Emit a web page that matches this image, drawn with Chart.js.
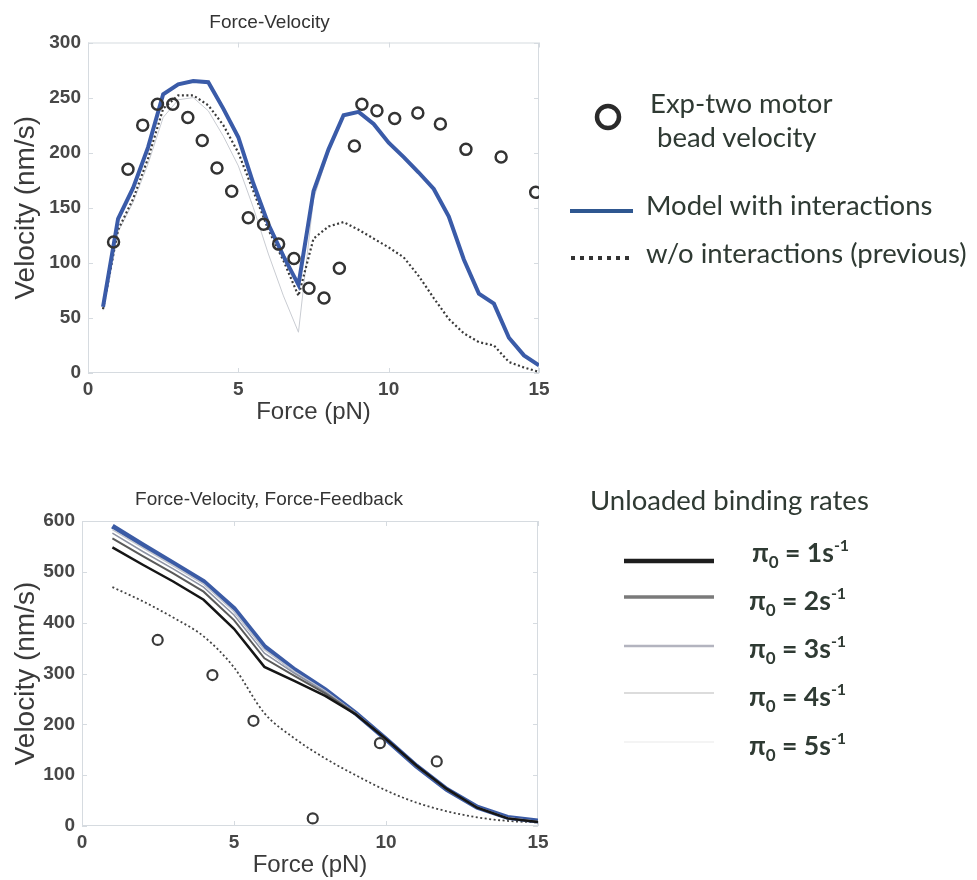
<!DOCTYPE html>
<html>
<head>
<meta charset="utf-8">
<script src="https://cdn.jsdelivr.net/npm/chart.js@4.4.0/dist/chart.umd.min.js"></script>
<style>
  body { margin: 0; background: #fff; width: 977px; height: 880px; overflow: hidden; position: relative; }
  #fv { position: absolute; left: 0; top: 0; }
  #ff { position: absolute; left: 0; top: 480px; }
  #legends { position: absolute; left: 0; top: 0; }
  #legends text { font-family: Lato, "Open Sans", sans-serif; fill: #2f3a33; font-size: 27.5px; }
  #legends .pi { font-weight: bold; font-size: 26.5px; }
</style>
</head>
<body>
<canvas id="fv" width="560" height="430"></canvas>
<canvas id="ff" width="560" height="400"></canvas>

<svg id="legends" width="977" height="880">
  <!-- top legend -->
  <circle cx="608" cy="117" r="11" fill="none" stroke="#2a2a2a" stroke-width="4.5"/>
  <text x="650" y="113">Exp-two motor</text>
  <text x="657" y="147">bead velocity</text>
  <line x1="570" y1="211" x2="633" y2="211" stroke="#2f5790" stroke-width="4"/>
  <text x="646" y="215">Model with interactions</text>
  <line x1="571" y1="258" x2="633" y2="258" stroke="#333" stroke-width="4" stroke-dasharray="4 5"/>
  <text x="646" y="263">w/o interactions (previous)</text>

  <!-- bottom legend -->
  <text x="590" y="510">Unloaded binding rates</text>
  <line x1="624" y1="561" x2="714" y2="561" stroke="#1e1e1e" stroke-width="4.5"/>
  <line x1="624" y1="597" x2="714" y2="597" stroke="#7a7a7a" stroke-width="3.5"/>
  <line x1="624" y1="646" x2="714" y2="646" stroke="#b3b4bf" stroke-width="2.5"/>
  <line x1="624" y1="693" x2="714" y2="693" stroke="#dcdcdc" stroke-width="2"/>
  <line x1="624" y1="742" x2="714" y2="742" stroke="#f1f1f1" stroke-width="1.5"/>
  <text class="pi" x="752" y="562">π<tspan dy="6" font-size="17">0</tspan><tspan dy="-6"> = 1s</tspan><tspan dy="-11" font-size="16">-1</tspan></text>
  <text class="pi" x="749" y="610">π<tspan dy="6" font-size="17">0</tspan><tspan dy="-6"> = 2s</tspan><tspan dy="-11" font-size="16">-1</tspan></text>
  <text class="pi" x="749" y="658">π<tspan dy="6" font-size="17">0</tspan><tspan dy="-6"> = 3s</tspan><tspan dy="-11" font-size="16">-1</tspan></text>
  <text class="pi" x="749" y="706">π<tspan dy="6" font-size="17">0</tspan><tspan dy="-6"> = 4s</tspan><tspan dy="-11" font-size="16">-1</tspan></text>
  <text class="pi" x="749" y="755">π<tspan dy="6" font-size="17">0</tspan><tspan dy="-6"> = 5s</tspan><tspan dy="-11" font-size="16">-1</tspan></text>
</svg>

<script>
// ---- Force-Velocity (top) ----
const topForce = [0.5,1,1.5,2,2.5,3,3.5,4,4.5,5,5.5,6,6.5,7,7.5,8,8.5,9,9.5,10,10.5,11,11.5,12,12.5,13,13.5,14,14.5,15];
const topModel = [60,140,168,205,253,262,265,264,240,214,172,135,106,80,165,203,234,237,226,209,196,182,167,142,103,72,63,32,16,7];
const topPrevious = [58,130,158,195,240,252,252,243,225,200,165,130,102,70,122,133,137,130,122,114,105,88,68,49,36,28,25,10,5,1];
const topFaint = [57,128,155,190,232,248,250,238,215,188,150,108,70,37,158,200,233,null,null,null,null,null,null,null,null,null,null,null,null,null];
const expForceTop = [0.85,1.33,1.82,2.31,2.82,3.32,3.80,4.29,4.78,5.33,5.84,6.34,6.85,7.35,7.85,8.36,8.86,9.11,9.61,10.2,10.97,11.72,12.57,13.74,14.89];
const expVelTop = [119,185,225,244,244,232,211,186,165,141,135,117,104,77,68,95,206,244,238,231,236,226,203,196,164];

// ---- Force-Velocity, Force-Feedback (bottom) ----
const bottomForce = [1,2,3,4,5,6,7,8,9,10,11,12,13,14,15];
const pi1Vel = [548,514,481,445,388,313,285,256,220,171,119,73,36,15,8];
const pi2Vel = [566,531,497,461,405,330,295,261,221,171,118,72,36,15,8];
const pi3Vel = [576,540,506,470,415,340,300,264,222,171,118,72,36,16,9];
const pi4Vel = [583,547,512,476,422,347,303,266,222,171,118,72,37,16,9];
const blueVel = [590,553,517,481,428,353,307,268,222,171,118,72,37,17,10];
const bottomPrevious = [470,442,410,373,312,222,172,133,100,70,46,29,17,10,7];
const expForceBottom = [2.49,4.29,5.64,7.59,9.8,11.67];
const expVelBottom = [366,297,207,15,163,127];

const xTicks = [0,5,10,15];

const pts = (xs, ys) => xs.map((x, i) => ({x: x, y: ys[i]}));

// light box round the plot area with small inward ticks, matlab style
const boxPlugin = {
  id: 'box',
  beforeDatasetsDraw(chart) {
    const {ctx, chartArea: a, scales} = chart;
    ctx.save();
    ctx.strokeStyle = '#d6dbe0';
    ctx.lineWidth = 1;
    ctx.strokeRect(a.left + 0.5, a.top + 0.5, a.right - a.left - 1, a.bottom - a.top - 1);
    ctx.beginPath();
    scales.x.ticks.forEach(t => {
      const px = Math.round(scales.x.getPixelForValue(t.value)) + 0.5;
      ctx.moveTo(px, a.bottom); ctx.lineTo(px, a.bottom - 5);
      ctx.moveTo(px, a.top); ctx.lineTo(px, a.top + 5);
    });
    scales.y.ticks.forEach(t => {
      const py = Math.round(scales.y.getPixelForValue(t.value)) + 0.5;
      ctx.moveTo(a.left, py); ctx.lineTo(a.left + 5, py);
      ctx.moveTo(a.right, py); ctx.lineTo(a.right - 5, py);
    });
    ctx.stroke();
    ctx.restore();
  }
};

const tickFont = {family: 'Liberation Sans', size: 19, weight: 'bold'};

function makeOptions(title, yMax, yStep, yWidth, xHeight, pad, titlePad, xTitlePad) {
  return {
    responsive: false,
    animation: false,
    layout: {padding: pad},
    plugins: {
      legend: {display: false},
      tooltip: {enabled: false},
      title: {
        display: true, text: title, color: '#333',
        font: {family: 'Liberation Sans', size: 19, weight: 'normal'},
        padding: titlePad
      }
    },
    scales: {
      x: {
        type: 'linear', min: 0, max: 15,
        afterBuildTicks: s => { s.ticks = xTicks.map(v => ({value: v})); },
        afterFit: s => { s.height = xHeight; },
        grid: {display: false, drawTicks: false},
        border: {display: false},
        ticks: {font: tickFont, color: '#474747', padding: 5, maxRotation: 0},
        title: {display: true, text: 'Force (pN)', color: '#3a3a3a',
                font: {family: 'Liberation Sans', size: 24}, padding: xTitlePad}
      },
      y: {
        min: 0, max: yMax,
        afterFit: s => { s.width = yWidth; },
        grid: {display: false, drawTicks: false},
        border: {display: false},
        ticks: {stepSize: yStep, font: tickFont, color: '#474747', padding: 7},
        title: {display: true, text: 'Velocity (nm/s)', color: '#3a3a3a',
                font: {family: 'Liberation Sans', size: 28}, padding: {top: 9, bottom: 0}}
      }
    }
  };
}

new Chart(document.getElementById('fv'), {
  type: 'scatter',
  data: {
    datasets: [
      {label: 'Exp-two motor bead velocity', data: pts(expForceTop, expVelTop), order: 0,
       pointRadius: 5.5, borderWidth: 2.5, borderColor: '#333', backgroundColor: 'rgba(0,0,0,0)'},
      {label: 'Model with interactions', data: pts(topForce, topModel), order: 1, showLine: true,
       pointRadius: 0, borderWidth: 4, borderColor: '#3a5ba8'},
      {label: 'w/o interactions (previous)', data: pts(topForce, topPrevious), order: 2, showLine: true,
       pointRadius: 0, borderWidth: 2.2, borderColor: '#3a3a3a', borderDash: [2, 2.5]},
      {label: 'faint', data: pts(topForce, topFaint), order: 3, showLine: true, spanGaps: false,
       pointRadius: 0, borderWidth: 1, borderColor: '#c9ccd2'}
    ]
  },
  options: makeOptions('Force-Velocity', 300, 50, 88, 57, {top: 0, right: 21, bottom: 0, left: 0},
                       {top: 11.6, bottom: 8.1}, {top: 0, bottom: 3.6}),
  plugins: [boxPlugin]
});

new Chart(document.getElementById('ff'), {
  type: 'scatter',
  data: {
    datasets: [
      {label: 'Exp', data: pts(expForceBottom, expVelBottom), order: 0,
       pointRadius: 5, borderWidth: 2.2, borderColor: '#3a3a3a', backgroundColor: 'rgba(0,0,0,0)'},
      {label: 'pi0 = 1', data: pts(bottomForce, pi1Vel), order: 1, showLine: true,
       pointRadius: 0, borderWidth: 2.5, borderColor: '#151515'},
      {label: 'pi0 = 2', data: pts(bottomForce, pi2Vel), order: 2, showLine: true,
       pointRadius: 0, borderWidth: 2, borderColor: '#5a5a5a'},
      {label: 'pi0 = 3', data: pts(bottomForce, pi3Vel), order: 3, showLine: true,
       pointRadius: 0, borderWidth: 1.5, borderColor: '#8e93a3'},
      {label: 'pi0 = 4', data: pts(bottomForce, pi4Vel), order: 4, showLine: true,
       pointRadius: 0, borderWidth: 1.5, borderColor: '#c4c7d0'},
      {label: 'model', data: pts(bottomForce, blueVel), order: 5, showLine: true,
       pointRadius: 0, borderWidth: 5, borderColor: '#3b5ba5'},
      {label: 'w/o interactions', data: pts(bottomForce, bottomPrevious), order: 6, showLine: true,
       pointRadius: 0, borderWidth: 1.8, borderColor: '#444', borderDash: [2, 2.5],
       cubicInterpolationMode: 'monotone'}
    ]
  },
  options: makeOptions('Force-Velocity, Force-Feedback', 600, 100, 82, 54, {top: 0, right: 22, bottom: 0, left: 0},
                       {top: 8.6, bottom: 9.6}, {top: 0, bottom: 0}),
  plugins: [boxPlugin]
});
</script>
</body>
</html>
